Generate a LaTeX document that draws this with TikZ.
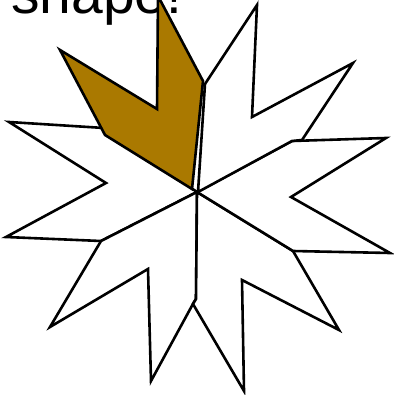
\documentclass[tikz,border=0pt]{standalone}
\usepackage{fontspec}
\setmainfont{Liberation Sans}
\definecolor{goldpiece}{RGB}{170,121,0}
\begin{document}
\begin{tikzpicture}[x=1pt,y=-1pt,
  piece/.style={draw=black,line width=2.6pt,line join=miter,fill=white},
  goldp/.style={piece,fill=goldpiece},
  title/.style={font=\fontsize{57}{57}\selectfont,inner sep=0pt,anchor=base west}]
\useasboundingbox (0,0) rectangle (393,395);
\node[title] (t) at (11,14) {shape!};
% west
\draw[piece] (197,192) -- (104,128) -- (9,122) -- (106,183) -- (6,237) -- (101,241) -- cycle;
% south-west
\draw[piece] (197,192) -- (101,241) -- (50,327) -- (148,269) -- (151,381) -- (194,302) -- (196,299) -- cycle;
% south-east
\draw[piece] (197,192) -- (293,251) -- (339,330) -- (242,280) -- (244,391) -- (193,304) -- (196,299) -- cycle;
% east
\draw[piece] (197,192) -- (292,141) -- (386,138) -- (291,197) -- (390,253) -- (293,251) -- cycle;
% north-east
\draw[piece] (198,192) -- (205,84) -- (257,5) -- (252,117) -- (353,63) -- (302,140) -- (292,141) -- cycle;
% gold
\draw[goldp] (192,189) -- (105,135) -- (60,50) -- (157,109) -- (158,-4) -- (203,81) -- cycle;
\end{tikzpicture}
\end{document}
